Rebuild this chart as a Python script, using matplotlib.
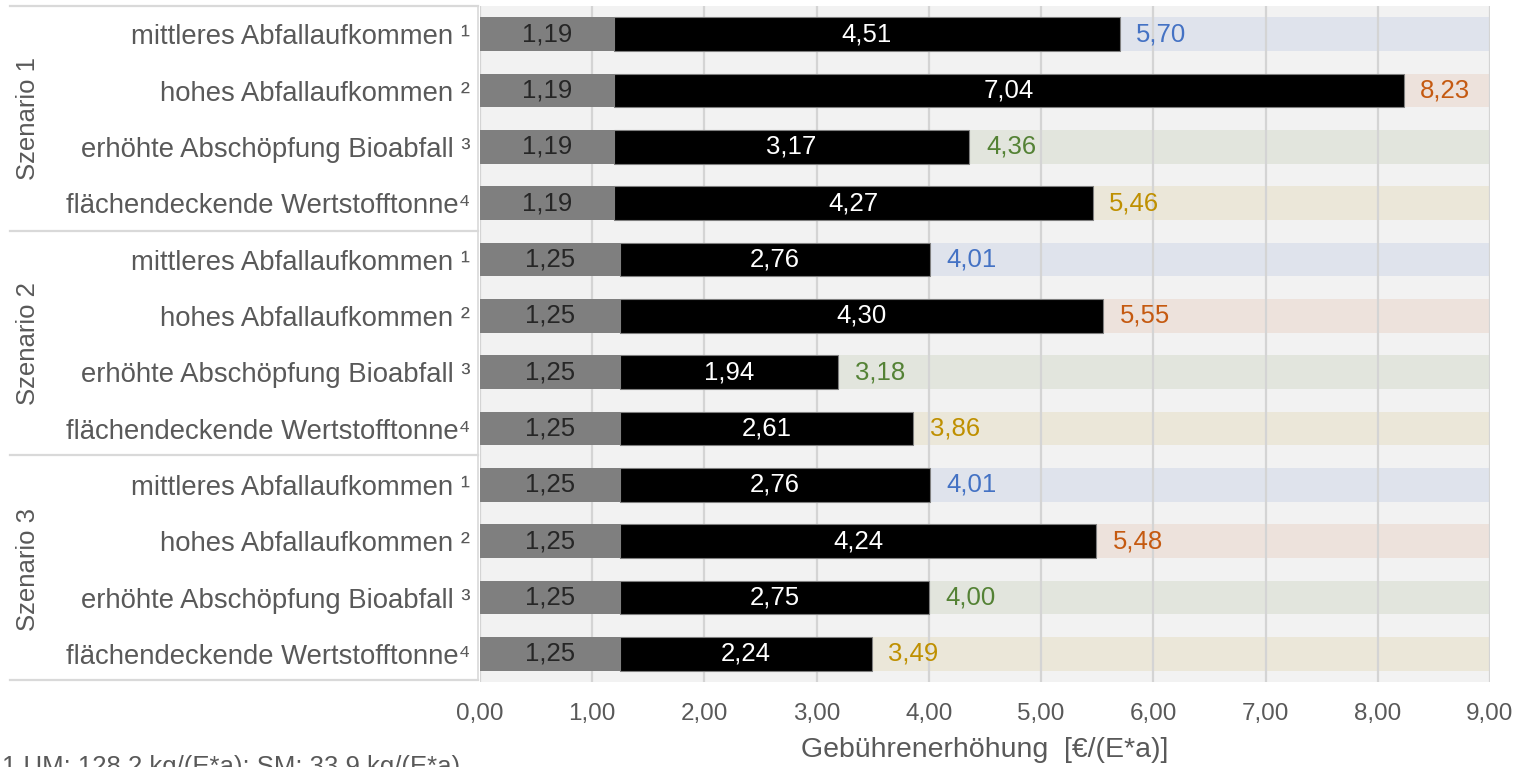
import matplotlib
matplotlib.use("Agg")
import matplotlib.pyplot as plt
from matplotlib.lines import Line2D

plt.rcParams['font.family'] = ['Liberation Sans', 'DejaVu Sans']

# ---- data ----
scenarios = ["Szenario 1", "Szenario 2", "Szenario 3"]
categories = ["mittleres Abfallaufkommen \u00b9",
              "hohes Abfallaufkommen \u00b2",
              "erhöhte Abschöpfung Bioabfall \u00b3",
              "flächendeckende Wertstofftonne\u2074"]
base_values = [1.19, 1.19, 1.19, 1.19,
               1.25, 1.25, 1.25, 1.25,
               1.25, 1.25, 1.25, 1.25]
increase_values = [4.51, 7.04, 3.17, 4.27,
                   2.76, 4.30, 1.94, 2.61,
                   2.76, 4.24, 2.75, 2.24]
total_values = [5.70, 8.23, 4.36, 5.46,
                4.01, 5.55, 3.18, 3.86,
                4.01, 5.48, 4.00, 3.49]
x_ticks = [0, 1, 2, 3, 4, 5, 6, 7, 8, 9]
x_label = "Gebührenerhöhung  [€/(E*a)]"
footnote = "1 UM: 128,2 kg/(E*a); SM: 33,9 kg/(E*a)"

# ---- styles ----
band_colors = ['#dfe3ec', '#ede2dc', '#e2e5dd', '#ebe7d9']
total_colors = ['#4472c4', '#c55a11', '#548235', '#bf9000']
text_gray = '#595959'
W, H = 1522, 767

fig = plt.figure(figsize=(W / 100, H / 100), dpi=100)
ax = fig.add_axes([480 / W, 1 - 682 / H, 1010 / W, 676 / H])
ax.set_facecolor('#f2f2f2')

n = len(base_values)
rows = list(range(n))
labels = categories * len(scenarios)
bh = 0.6
xmax = x_ticks[-1]

for i in rows:
    k = i % len(categories)
    ax.barh(i, xmax, height=bh, color=band_colors[k], zorder=0.5, linewidth=0)
for t in x_ticks:
    ax.axvline(t, color='#d4d4d4', lw=1.6, zorder=1)

ax.barh(rows, base_values, height=bh, color='#7f7f7f', zorder=2, linewidth=0)
ax.barh(rows, increase_values, left=base_values, height=bh, color='#000000',
        edgecolor='#7f7f7f', linewidth=0.8, zorder=2)

fs_num = 18.5
fs_cat = 19.8
fs_tick = 17.5
for i in rows:
    b, inc, tot = base_values[i], increase_values[i], total_values[i]
    ax.text(b / 2, i, f"{b:.2f}".replace('.', ','), ha='center', va='center',
            color='#262626', fontsize=fs_num, zorder=3)
    ax.text(b + inc / 2, i, f"{inc:.2f}".replace('.', ','), ha='center', va='center',
            color='white', fontsize=fs_num, zorder=3)
    ax.annotate(f"{tot:.2f}".replace('.', ','), xy=(b + inc, i), xytext=(12, 0),
                textcoords='offset points', ha='left', va='center',
                color=total_colors[i % len(categories)], fontsize=fs_num, zorder=3)

ax.set_xlim(0, xmax)
ax.set_ylim(n - 0.5, -0.5)
ax.set_xticks(x_ticks)
ax.set_xticklabels([f"{t:.2f}".replace('.', ',') for t in x_ticks], color=text_gray, fontsize=fs_tick)
ax.set_yticks(rows)
ax.set_yticklabels(labels, color=text_gray, fontsize=fs_cat)
ax.tick_params(axis='both', length=0)
ax.tick_params(axis='x', pad=15)
ax.tick_params(axis='y', pad=7)
for s in ax.spines.values():
    s.set_visible(False)

# left label box lines
def fy(p):
    return 1 - p / H
for yp in [6, 231, 455, 680]:
    fig.add_artist(Line2D([10 / W, 478 / W], [fy(yp), fy(yp)], color='#d9d9d9', lw=1.6))
fig.add_artist(Line2D([478 / W, 478 / W], [fy(6), fy(680)], color='#d9d9d9', lw=1.2))

# scenario labels
ng = len(categories)
for g, name in enumerate(scenarios):
    top_px = 6 + g * ng * (676 / n)
    bot_px = top_px + ng * (676 / n)
    fig.text(28 / W, fy((top_px + bot_px) / 2), name, rotation=90, ha='center', va='center',
             color=text_gray, fontsize=18.5)

fig.text(985 / W, fy(750), x_label, ha='center', va='center', color=text_gray, fontsize=20.5)
fig.text(2 / W, fy(755), footnote, ha='left', va='top', color=text_gray, fontsize=18.5)

fig.savefig("out.png", dpi=100, facecolor='white')
